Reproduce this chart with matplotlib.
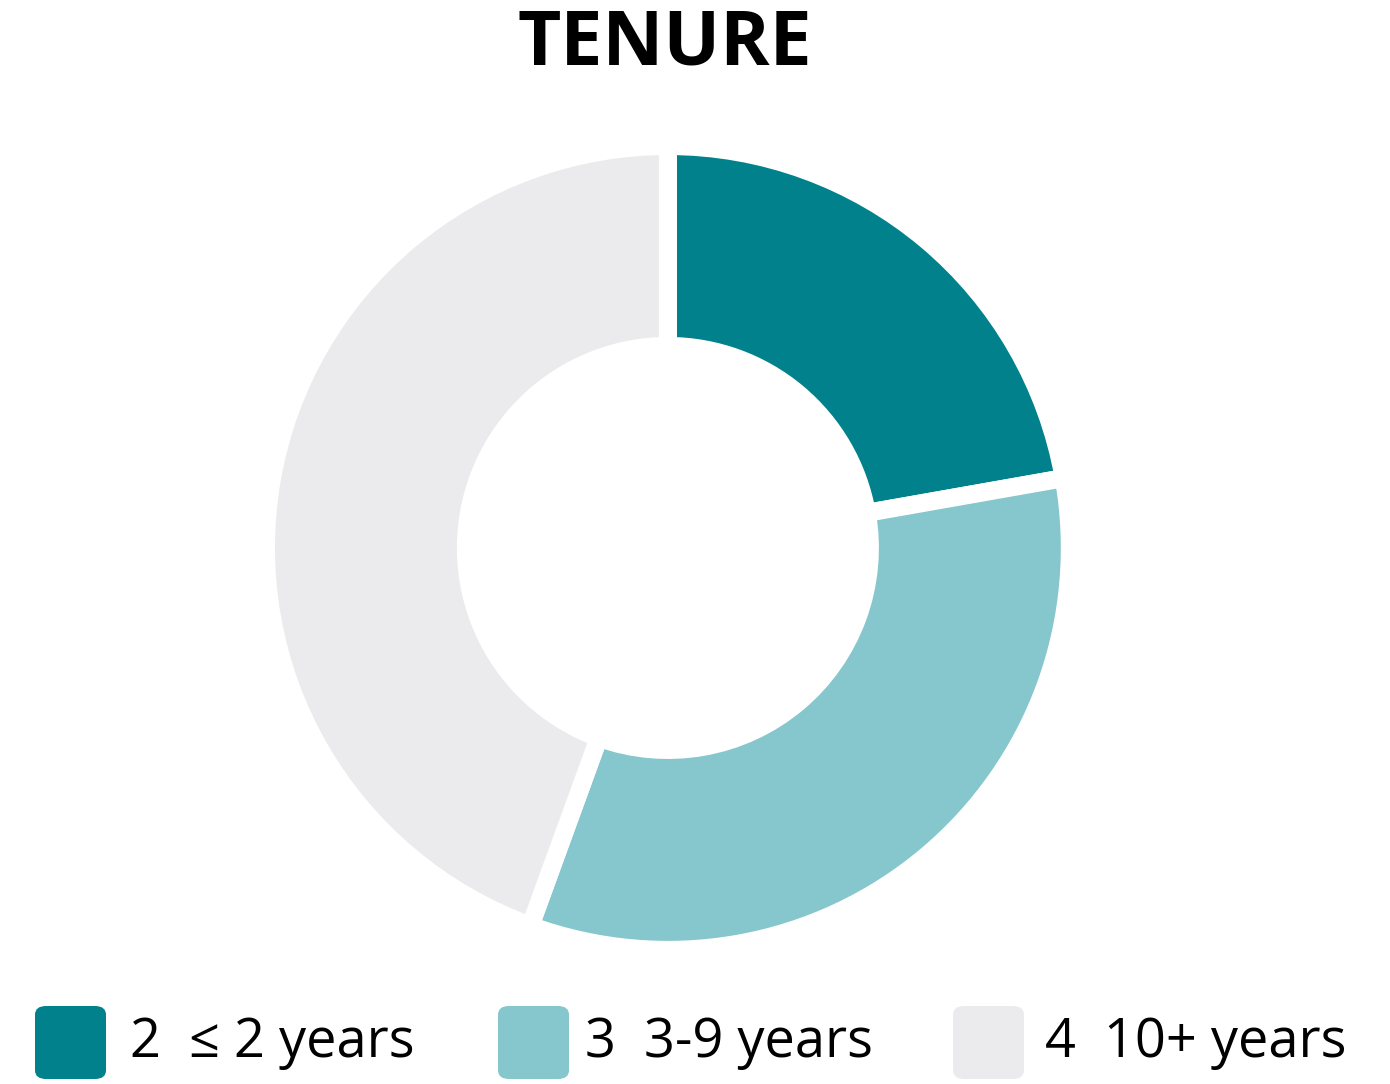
import matplotlib
matplotlib.use("Agg")
import matplotlib.pyplot as plt
from matplotlib.patches import FancyBboxPatch

# data
categories = ["≤ 2 years", "3-9 years", "10+ years"]
values = [2, 3, 4]
colors = ["#00818B", "#85C7CD", "#EBEBED"]

plt.rcParams["font.family"] = ["Open Sans", "DejaVu Sans"]

W, H = 1390, 1084
fig = plt.figure(figsize=(W / 100, H / 100), dpi=100)

# donut
ax = fig.add_axes([0.119, 0.031, 0.723, 0.927])
ax.pie(values, colors=colors, startangle=90, counterclock=False, radius=1.0,
       wedgeprops=dict(width=0.4975, edgecolor="white", linewidth=13))
ax.set_xlim(-1.25, 1.25)
ax.set_ylim(-1.25, 1.25)
ax.set_aspect("equal")
ax.axis("off")

# title
fig.text(665 / W, 1 - 45 / H, "TENURE", ha="center", va="center",
         fontsize=54, fontweight="bold")

# legend, drawn by hand
patch_x = [35, 498, 953]
text_x = [130, 585, 1045]
for px, tx, v, lab, c in zip(patch_x, text_x, values, categories, colors):
    box = FancyBboxPatch((px / W, 1 - 1079 / H), 71 / W, 73 / H,
                         boxstyle="round,pad=0,rounding_size=0.008",
                         transform=fig.transFigure, facecolor=c, edgecolor="none")
    fig.patches.append(box)
    fig.text(tx / W, 1 - 1043 / H, f"{v}  {lab}", ha="left", va="center",
             fontsize=39, color="black")

fig.savefig("out.png", dpi=100)
